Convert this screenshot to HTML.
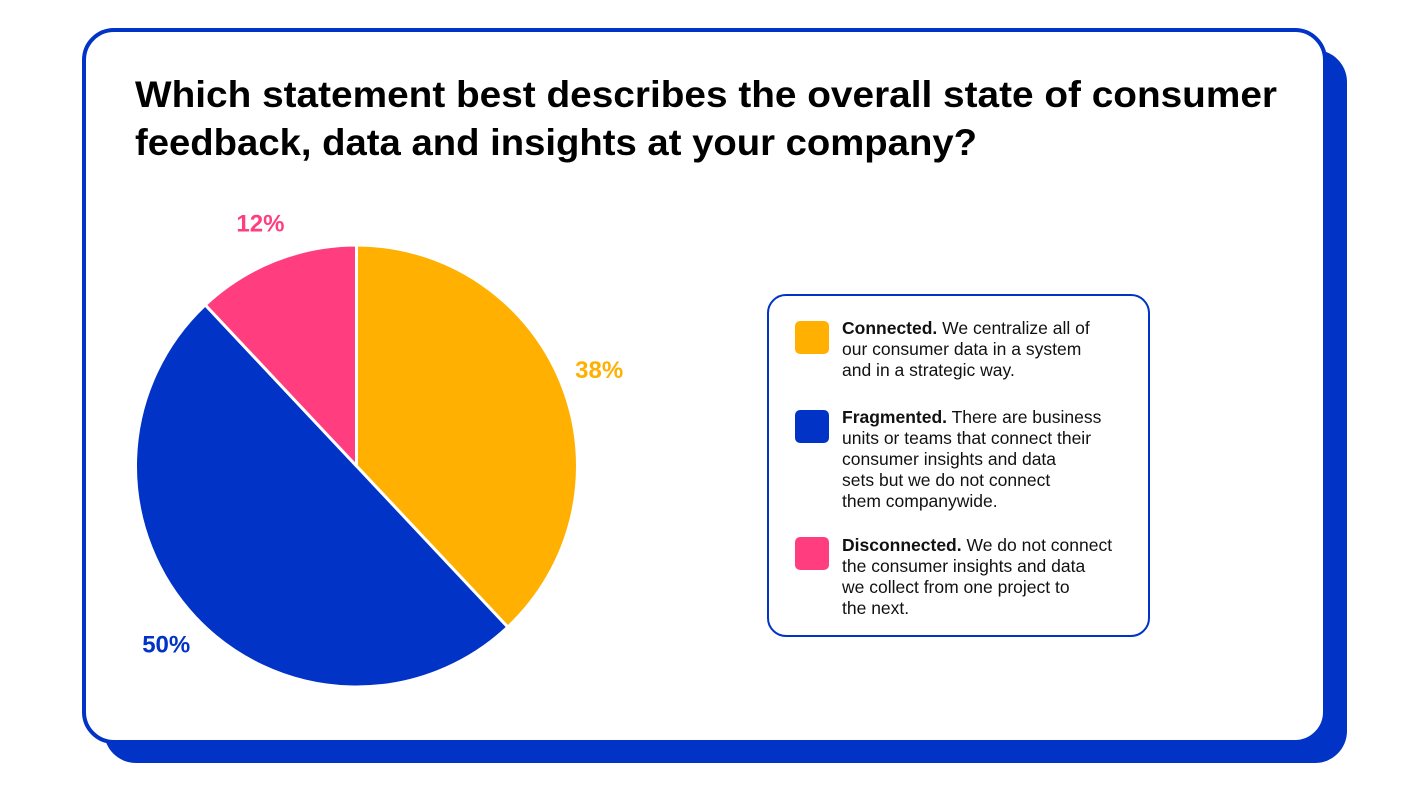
<!DOCTYPE html>
<html><head><meta charset="utf-8"><style>
html,body{margin:0;padding:0;background:#fff;}
svg{display:block;font-family:"Liberation Sans",sans-serif;}
</style></head><body>
<svg id="chart" width="1428" height="796" viewBox="0 0 1428 796">
  <rect x="104" y="50" width="1243" height="713" rx="32" fill="#0033C6"/>
  <rect x="84" y="30" width="1241" height="712" rx="30" fill="#fff" stroke="#0033C6" stroke-width="4"/>
  <g font-weight="bold" font-size="37" fill="#000">
    <text x="135" y="107" textLength="1142" lengthAdjust="spacingAndGlyphs">Which statement best describes the overall state of consumer</text>
    <text x="135" y="155" textLength="842" lengthAdjust="spacingAndGlyphs">feedback, data and insights at your company?</text>
  </g>
  <g id="pie"></g>
  <g id="labels"></g>
  <rect x="768" y="295" width="381" height="341" rx="18" fill="#fff" stroke="#0033C6" stroke-width="2"/>
  <g font-size="17.5" fill="#111">
    <g>
      <rect x="795" y="321" width="34" height="33" rx="5" fill="#FFB000"/>
      <text x="842" y="334"><tspan font-weight="bold">Connected.</tspan> We centralize all of</text>
      <text x="842" y="355">our consumer data in a system</text>
      <text x="842" y="376">and in a strategic way.</text>
    </g>
    <g>
      <rect x="795" y="410" width="34" height="33" rx="5" fill="#0033C6"/>
      <text x="842" y="423"><tspan font-weight="bold">Fragmented.</tspan> There are business</text>
      <text x="842" y="444">units or teams that connect their</text>
      <text x="842" y="465">consumer insights and data</text>
      <text x="842" y="486">sets but we do not connect</text>
      <text x="842" y="507">them companywide.</text>
    </g>
    <g>
      <rect x="795" y="537" width="34" height="33" rx="5" fill="#FF3D7F"/>
      <text x="842" y="551"><tspan font-weight="bold">Disconnected.</tspan> We do not connect</text>
      <text x="842" y="572">the consumer insights and data</text>
      <text x="842" y="593">we collect from one project to</text>
      <text x="842" y="614">the next.</text>
    </g>
  </g>
</svg>
<script>
const categories = ["Connected", "Fragmented", "Disconnected"];
const values = [38, 50, 12];
const valueLabels = ["38%", "50%", "12%"];
const colors = ["#FFB000", "#0033C6", "#FF3D7F"];
const NS = "http://www.w3.org/2000/svg";
const cx = 356.5, cy = 466, r = 221;
const total = values.reduce((a, b) => a + b, 0);
function angleOf(v) { return v / total * Math.PI * 2; }
function pt(a, rr) { return [cx + rr * Math.sin(a), cy - rr * Math.cos(a)]; }
const pie = document.getElementById('pie');
const labels = document.getElementById('labels');
let a0 = 0;
values.forEach((v, i) => {
  const a1 = a0 + angleOf(v);
  const p0 = pt(a0, r), p1 = pt(a1, r);
  const large = (a1 - a0) > Math.PI ? 1 : 0;
  const path = document.createElementNS(NS, 'path');
  path.setAttribute('d', `M${cx},${cy} L${p0[0]},${p0[1]} A${r},${r} 0 ${large} 1 ${p1[0]},${p1[1]} Z`);
  path.setAttribute('fill', colors[i]);
  path.setAttribute('stroke', '#fff');
  path.setAttribute('stroke-width', '3');
  path.setAttribute('stroke-linejoin', 'round');
  
  
  pie.appendChild(path);
  const mid = (a0 + a1) / 2;
  const lp = pt(mid, r + 40);
  const t = document.createElementNS(NS, 'text');
  t.setAttribute('x', lp[0]);
  t.setAttribute('y', lp[1] + 8);
  t.setAttribute('text-anchor', 'middle');
  t.setAttribute('font-size', '24');
  t.setAttribute('font-weight', 'bold');
  t.setAttribute('fill', colors[i]);
  t.textContent = valueLabels[i];
  
  
  labels.appendChild(t);
  a0 = a1;
});
</script>
</body></html>
